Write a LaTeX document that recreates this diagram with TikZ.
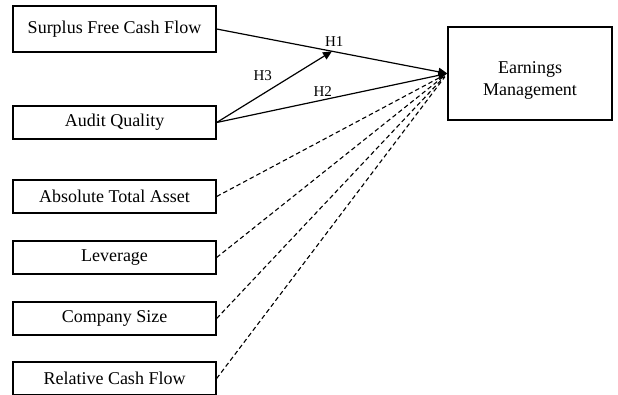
\documentclass[tikz,border=0pt]{standalone}
\usepackage{fontspec}
\setmainfont{Liberation Serif}
\usetikzlibrary{arrows.meta,calc}

\begin{document}
\begin{tikzpicture}[x=1pt, y=-1pt,
  every node/.style={font=\fontsize{18}{22}\selectfont},
  var/.style={draw, line width=1.3pt, minimum width=203pt, minimum height=33pt,
              inner sep=0pt, align=center},
  hyp/.style={line width=1.2pt, -{Triangle[length=9pt,width=8pt]}},
  ctrl/.style={line width=1.1pt, dash pattern=on 4.5pt off 3pt},
  hlab/.style={font=\fontsize{15}{17}\selectfont, inner sep=1pt},
]
\useasboundingbox (0,0) rectangle (618,394);

% Independent variables
\node[var, minimum height=46pt] (sfcf) at (114.5,29) {Surplus Free Cash Flow};
\node[var] (aq) at (114.5,122.5) {Audit Quality};

% Control variables
\node[var] (ata) at (114.5,196.5) {Absolute Total Asset};
\node[var] (lev) at (114.5,257.5) {Leverage};
\node[var] (size) at (114.5,318.5) {Company Size};
\node[var] (rcf) at (114.5,378.5) {Relative Cash Flow};

% Dependent variable
\node[var, minimum width=164pt, minimum height=93pt, text height=47pt, text depth=4pt] (em) at (530,73.5) {Earnings\\Management};

% Hypotheses
\draw[hyp] (sfcf.east) -- (em.west) node[hlab, pos=0.51, above=4pt] {H1};
\draw[hyp] (aq.east) -- (em.west) node[hlab, pos=0.46, above=2pt] {H2};
\coordinate (mod) at ($(sfcf.east)!0.5!(em.west)$);
\draw[hyp] (aq.east) -- (mod) node[hlab, pos=0.4, above=12pt] {H3};

% Control paths
\foreach \c in {ata,lev,size,rcf}{
  \draw[ctrl, shorten >=4pt] (\c.east) -- (em.west);
}
\end{tikzpicture}
\end{document}
